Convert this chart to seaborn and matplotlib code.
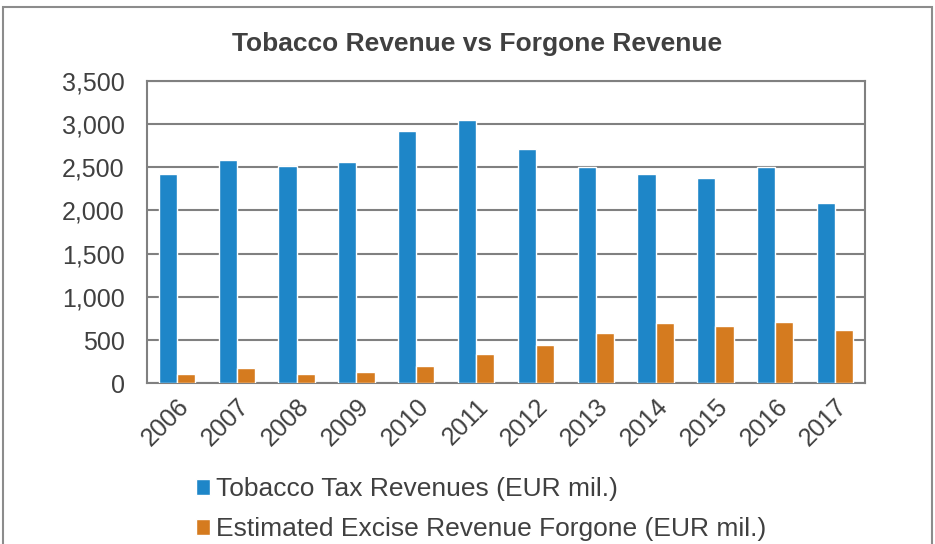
import numpy as np
import pandas as pd
import matplotlib
matplotlib.use("Agg")
import matplotlib.pyplot as plt
import seaborn as sns
from matplotlib.patches import Rectangle
from matplotlib.ticker import FuncFormatter, FixedLocator

# Dados
years = ["2006", "2007", "2008", "2009", "2010", "2011",
         "2012", "2013", "2014", "2015", "2016", "2017"]
tax_revenue = [2417, 2583, 2513, 2563, 2914, 3042, 2706, 2505, 2421, 2371, 2505, 2085]
forgone_revenue = [104, 177, 104, 127, 200, 342, 443, 578, 694, 663, 709, 617]
series_names = ["Tobacco Tax Revenues (EUR mil.)",
                "Estimated Excise Revenue Forgone (EUR mil.)"]
colors = ["#1E86C8", "#D57B1F"]

df = pd.DataFrame({
    "year": years * 2,
    "value": tax_revenue + forgone_revenue,
    "series": [series_names[0]] * len(years) + [series_names[1]] * len(years),
})

sns.set_style("white")
plt.rcParams["font.family"] = ["Liberation Sans", "DejaVu Sans"]
text_color = "#404040"
line_color = "#808080"

fig = plt.figure(figsize=(9.35, 5.44), dpi=100)
ax = fig.add_axes([147 / 935, 1 - 383.3 / 544, 718 / 935, 302.6 / 544])

sns.barplot(data=df, x="year", y="value", hue="series", palette=colors,
            width=0.61, saturation=1, gap=0, ax=ax, legend=True, zorder=3)

# Eixos no estilo Excel
ax.set_xlim(-0.5, len(years) - 0.5)
ax.set_ylim(0, 3500)
ax.set_yticks(np.arange(0, 3501, 500))
ax.yaxis.set_major_formatter(FuncFormatter(lambda v, p: f"{int(v):,}"))
ax.xaxis.set_minor_locator(FixedLocator(np.arange(-0.5, len(years), 1)))
ax.tick_params(axis="x", which="major", length=0, pad=8)
ax.tick_params(axis="x", which="minor", length=8, width=1.5, color=line_color)
ax.tick_params(axis="y", length=0, pad=16)
ax.tick_params(labelsize=18, labelcolor=text_color)
for lbl in ax.get_xticklabels():
    lbl.set_rotation(45)
    lbl.set_ha("right")
    lbl.set_rotation_mode("anchor")

ax.grid(axis="y", color=line_color, linewidth=1.5, zorder=0)
ax.set_axisbelow(True)
for s in ax.spines.values():
    s.set_visible(True)
    s.set_color(line_color)
    s.set_linewidth(1.5)
ax.set_xlabel("")
ax.set_ylabel("")

# Legenda abaixo do grafico
handles, labels = ax.get_legend_handles_labels()
ax.get_legend().remove()
fig.legend(handles, labels, loc="center left",
           bbox_to_anchor=(172 / 935, 1 - 509 / 544), frameon=False,
           fontsize=19, labelcolor=text_color, handlelength=0.55,
           handleheight=0.55, handletextpad=0.2, labelspacing=0.6)

fig.text(477 / 935, 1 - 44 / 544, "Tobacco Revenue vs Forgone Revenue",
         ha="center", va="center", fontsize=19, fontweight="bold", color=text_color)

# Moldura da figura
fig.patches.append(Rectangle((3 / 935, -0.1), 929 / 935, 1.1 - 7 / 544,
                             transform=fig.transFigure, fill=False,
                             edgecolor="#8c8c8c", linewidth=1.5))

fig.savefig("out.png", dpi=100)
